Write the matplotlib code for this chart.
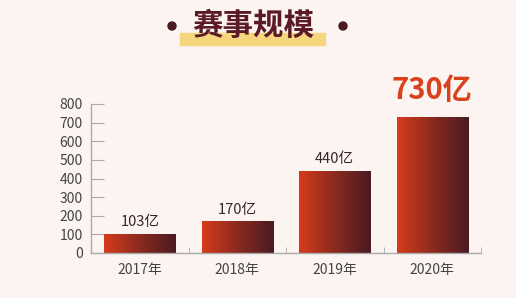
import matplotlib.pyplot as plt
import numpy as np
from matplotlib.colors import LinearSegmentedColormap
from matplotlib.patches import Rectangle, Ellipse

plt.rcParams['font.family'] = ['Noto Sans CJK SC', 'DejaVu Sans']

years = ["2017年", "2018年", "2019年", "2020年"]
values = [103, 170, 440, 730]
labels = ["103亿", "170亿", "440亿", "730亿"]
yticks = [0, 100, 200, 300, 400, 500, 600, 700, 800]

bg = "#fcf4f1"
dark = "#3a2528"
grad = LinearSegmentedColormap.from_list("bar", ["#d63c1a", "#8a2a1f", "#4a1b22"])

fig = plt.figure(figsize=(5.16, 2.98), dpi=100, facecolor=bg)
ax = fig.add_axes([91 / 516, 45 / 298, 390 / 516, 149 / 298])
ax.set_facecolor(bg)

x = np.arange(len(values))
bars = ax.bar(x, values, width=0.73, color="none")

# gradient fill, left orange-red to dark maroon
g = np.linspace(0, 1, 256).reshape(1, -1)
for b in bars:
    x0, w, h = b.get_x(), b.get_width(), b.get_height()
    im = ax.imshow(g, cmap=grad, extent=[x0, x0 + w, 0, h], aspect="auto", zorder=2)
    im.set_clip_path(b)

ax.set_xlim(-0.5, 3.5)
ax.set_ylim(0, 800)

# value labels
for i, (v, lab) in enumerate(zip(values, labels)):
    if i == len(values) - 1:
        ax.text(i, v + 65, lab, ha="center", va="bottom", fontsize=21,
                fontweight="heavy", color="#d8431e")
    else:
        ax.text(i, v + 25, lab, ha="center", va="bottom", fontsize=10.5,
                color=dark)

ax.set_yticks(yticks)
ax.set_yticklabels([str(t) for t in yticks], fontsize=10, color="#444444")
ax.tick_params(axis="y", direction="in", length=9, color="#aaaaaa", pad=6)
ax.set_xticks(x)
ax.set_xticklabels(years, fontsize=10, color="#444444")
ax.tick_params(axis="x", length=0, pad=7)
ax.set_xticks([-0.5, 0.5, 1.5, 2.5, 3.5], minor=True)
ax.tick_params(axis="x", which="minor", direction="in", length=4, color="#aaaaaa")

for s in ["top", "right"]:
    ax.spines[s].set_visible(False)
for s in ["left", "bottom"]:
    ax.spines[s].set_color("#aaaaaa")
    ax.spines[s].set_linewidth(1)

# title with highlight and dots
fig.patches.append(Rectangle((180 / 516, 1 - 45 / 298), 145 / 516, 12 / 298,
                             transform=fig.transFigure, color="#f6d67c", zorder=0))
for cx in [172, 343]:
    fig.patches.append(Ellipse((cx / 516, 1 - 26 / 298), 8 / 516, 8 / 298,
                               transform=fig.transFigure, color="#4a1a22"))
fig.text(253 / 516, 1 - 26 / 298, "赛事规模", ha="center", va="center",
         fontsize=22, fontweight="heavy", color="#5a1a26")

fig.savefig("out.png", dpi=100, facecolor=bg)
